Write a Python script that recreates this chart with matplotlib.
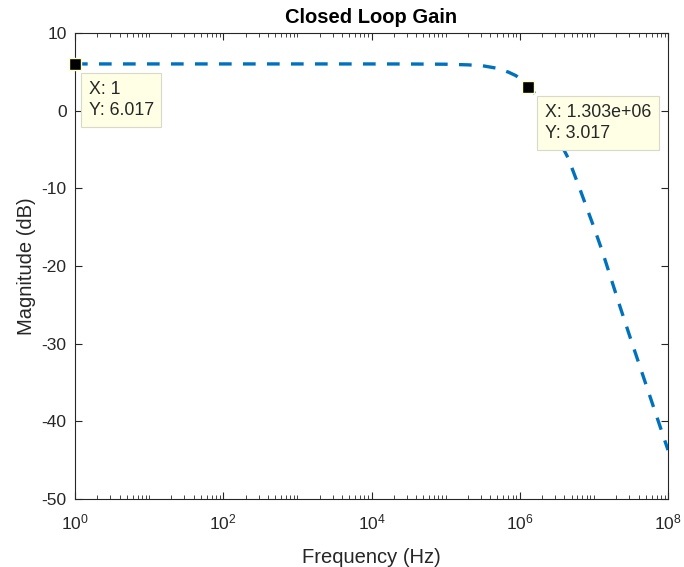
import numpy as np
import matplotlib
matplotlib.use("Agg")
import matplotlib.pyplot as plt
from matplotlib.ticker import LogLocator, FixedLocator, NullFormatter

plt.rcParams['font.family'] = ['Liberation Sans', 'DejaVu Sans']
plt.rcParams['axes.unicode_minus'] = False

# Data
log_freq = [0.0, 1.0, 2.0, 3.0, 4.0, 4.5, 5.0, 5.3, 5.5, 5.7, 5.85, 5.95, 6.05, 6.115,
            6.23, 6.4, 6.55, 6.653, 6.8, 7.0, 7.11, 7.355, 7.5, 7.75, 8.0]
magnitude_db = [6.017, 6.017, 6.017, 6.017, 6.015, 6.01, 5.98, 5.9, 5.78, 5.45, 4.95, 4.5, 3.7, 3.017,
                2.0, -1.2, -4.2, -6.1, -9.8, -15.0, -18.0, -25.3, -29.5, -36.6, -43.7]
freq_hz = [10 ** v for v in log_freq]

tips_x = [1.0, 1.303e6]
tips_y = [6.017, 3.017]
tips_text = ["X: 1\nY: 6.017", "X: 1.303e+06\nY: 3.017"]

title = "Closed Loop Gain"
xlabel = "Frequency (Hz)"
ylabel = "Magnitude (dB)"
yticks = [-50, -40, -30, -20, -10, 0, 10]

axcol = '#262626'
fig = plt.figure(figsize=(6.84, 5.67), dpi=100)
ax = fig.add_axes([75/684, 1 - 499/567, (668-75)/684, (499-33)/567])

ax.semilogx(freq_hz, magnitude_db, color='#0072BD', lw=2.4, dashes=(3.8, 3.4))
ax.set_xlim(1, 1e8)
ax.set_ylim(-50, 10)
ax.set_yticks(yticks)
ax.xaxis.set_major_locator(FixedLocator([1, 1e2, 1e4, 1e6, 1e8]))
ax.xaxis.set_minor_locator(LogLocator(base=10, subs=np.arange(1, 10), numticks=20))
ax.xaxis.set_minor_formatter(NullFormatter())

ax.tick_params(which='both', direction='in', top=True, right=True, colors=axcol,
               labelsize=12.5)
ax.tick_params(axis='x', pad=10)
ax.tick_params(axis='y', pad=6)
ax.tick_params(which='major', length=5, width=0.8)
ax.tick_params(which='minor', length=3, width=0.6)
for s in ax.spines.values():
    s.set_color(axcol)
    s.set_linewidth(0.8)

ax.set_title(title, fontsize=14.5, fontweight='bold', color='black', pad=7)
ax.set_xlabel(xlabel, fontsize=14.5, color=axcol, labelpad=11)
ax.set_ylabel(ylabel, fontsize=14.5, color=axcol, labelpad=4)

# data tips
ax.plot(tips_x, tips_y, 's', ms=9, mfc='black', mec='#FFFFCC', mew=1, clip_on=False, zorder=5)
offsets = [(10, -12), (12, -12)]
for x, y, t, off in zip(tips_x, tips_y, tips_text, offsets):
    ax.annotate(t, (x, y), xytext=off, textcoords='offset points', ha='left', va='top',
                fontsize=12.8, color=axcol, linespacing=1.35,
                bbox=dict(boxstyle='square,pad=0.42', fc='#FFFFE6', ec='#D9D9C8', lw=0.8),
                zorder=6)

fig.savefig("out.png", dpi=100)
